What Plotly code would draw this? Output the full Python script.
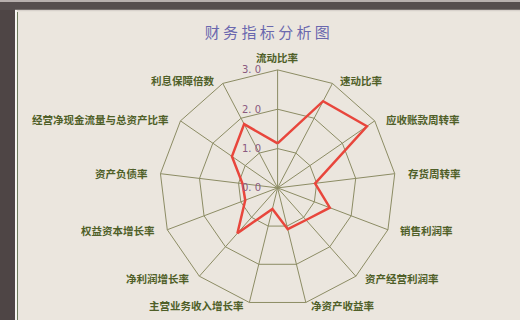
import math
import plotly.graph_objects as go

categories = ["流动比率", "速动比率", "应收账款周转率", "存货周转率", "销售利润率",
              "资产经营利润率", "净资产收益率", "主营业务收入增长率", "净利润增长率",
              "权益资本增长率", "资产负债率", "经营净现金流量与总资产比率", "利息保障倍数"]
values = [1.13, 2.49, 2.76, 0.96, 1.42, 1.09, 1.08, 0.55, 1.54, 0.88, 0.90, 1.41, 1.83]
radial_ticks = [0, 1, 2, 3]
radial_tick_text = ["0. 0", "1. 0", "2. 0", "3. 0"]
title_text = "财 务 指 标 分 析 图"

W, H = 520, 320
cx, cy, R = 277.6, 187.9, 118.0  # polar centre and radius in pixels (top-left origin)
RMAX = 3.0

fig = go.Figure()
fig.add_trace(go.Scatterpolar(
    r=values + values[:1],
    theta=categories + categories[:1],
    mode="lines",
    line=dict(color="#e8463c", width=2.5),
    showlegend=False,
    hoverinfo="skip",
))

label_font = dict(family="Noto Sans CJK SC", size=10.5, color="#4f5f28", weight="bold")
annotations = []
n = len(categories)
for i, name in enumerate(categories):
    a = 2 * math.pi * i / n
    s, c = math.sin(a), math.cos(a)
    px = cx + R * s
    py = cy - R * c
    if abs(s) < 0.05:
        xa, dx, dy = "center", 0, -12
    else:
        xa = "left" if s > 0 else "right"
        dx = 10 * s + (1 if s > 0 else -1)
        dy = -3 * c
    annotations.append(dict(
        text=name, xref="paper", yref="paper",
        x=(px + dx) / W, y=1 - (py + dy) / H,
        xanchor=xa, yanchor="middle", showarrow=False, font=label_font,
    ))

# radial tick labels to the left of the vertical spoke
for t, txt in zip(radial_ticks, radial_tick_text):
    annotations.append(dict(
        text=txt, xref="paper", yref="paper",
        x=(cx - 15) / W, y=1 - (cy - R * t / RMAX) / H,
        xanchor="right", yanchor="middle", showarrow=False,
        font=dict(family="DejaVu Sans", size=10, color="#8a5a80"),
    ))

grid_color = "#8c8c64"
bg = "#ebe6de"


def px_x(v):
    return v / W


def px_y(v):
    return 1 - v / H


fig.update_layout(
    width=W, height=H,
    margin=dict(l=0, r=0, t=0, b=0),
    paper_bgcolor=bg,
    plot_bgcolor=bg,
    title=dict(text=title_text, x=0.514, xanchor="center", y=px_y(33), yanchor="middle",
               font=dict(family="Noto Sans CJK SC", size=15, color="#6a68ae")),
    polar=dict(
        bgcolor=bg,
        domain=dict(x=[(cx - R) / W, (cx + R) / W], y=[1 - (cy + R) / H, 1 - (cy - R) / H]),
        gridshape="linear",
        angularaxis=dict(
            rotation=90, direction="clockwise",
            showline=True, linecolor=grid_color, linewidth=1,
            gridcolor=grid_color, gridwidth=1,
            ticks="", showticklabels=False,
        ),
        radialaxis=dict(
            range=[0, RMAX], tickvals=radial_ticks,
            angle=90, showticklabels=False,
            showline=False, gridcolor=grid_color, gridwidth=1, ticks="",
        ),
    ),
    annotations=annotations,
    shapes=[
        # photo frame: dark bezel on the left and top
        dict(type="rect", xref="paper", yref="paper", x0=0, x1=px_x(15), y0=0, y1=1,
             fillcolor="#4e4545", line=dict(width=0), layer="above"),
        dict(type="rect", xref="paper", yref="paper", x0=0, x1=1, y0=px_y(10), y1=1,
             fillcolor="#564e4e", line=dict(width=0), layer="above"),
        dict(type="line", xref="paper", yref="paper", x0=0, x1=1, y0=px_y(1), y1=px_y(1),
             line=dict(color="#b8b0ae", width=2), layer="above"),
        dict(type="line", xref="paper", yref="paper", x0=px_x(15), x1=1, y0=px_y(10.5), y1=px_y(10.5),
             line=dict(color="#d8d2cc", width=1.5), layer="above"),
        dict(type="line", xref="paper", yref="paper", x0=px_x(16), x1=px_x(16), y0=0, y1=px_y(10),
             line=dict(color="#f6f4f0", width=2), layer="above"),
        dict(type="line", xref="paper", yref="paper", x0=px_x(17.5), x1=px_x(17.5), y0=0, y1=px_y(12),
             line=dict(color="#6d7a5c", width=1), layer="above"),
    ],
)

fig.write_html("out.html", config={"displayModeBar": False},
               post_script="document.body.style.margin='0px';document.body.style.overflow='hidden';")
